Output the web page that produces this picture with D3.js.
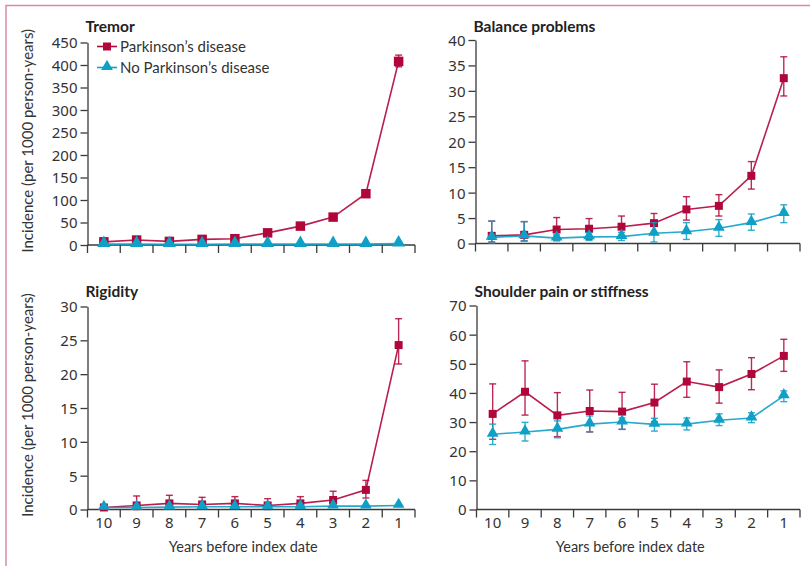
<!DOCTYPE html>
<html>
<head>
<meta charset="utf-8">
<script src="https://cdn.jsdelivr.net/npm/d3@7"></script>
<style>
  body { margin: 0; background: #fff; }
  svg { font-family: Lato, "Open Sans", sans-serif; }
  .num { font-family: "Noto Sans", "Open Sans", sans-serif; }
</style>
</head>
<body>
<svg id="chart" width="810" height="566"></svg>
<script>
const years = [10, 9, 8, 7, 6, 5, 4, 3, 2, 1];

// Tremor
const tremorPD = [7, 11, 8, 12.5, 14, 27, 42, 62, 114, 408];
const tremorPDLo = [5, 9, 6, 10.5, 12, 25, 39, 58, 108, 396];
const tremorPDHi = [9, 13, 10, 14.5, 16, 29, 45, 66, 121, 422];
const tremorNo = [2, 2, 1.5, 1.5, 2, 2, 2, 2, 2, 3];
const tremorNoLo = [1.5, 1.5, 1, 1, 1.5, 1.5, 1.5, 1.5, 1.5, 2.5];
const tremorNoHi = [2.5, 2.5, 2, 2, 2.5, 2.5, 2.5, 2.5, 2.5, 3.5];

// Balance problems
const balancePD = [1.5, 1.7, 2.75, 2.9, 3.3, 4.0, 6.7, 7.4, 13.3, 32.5];
const balancePDLo = [0.3, 0.5, 0.7, 0.8, 1.3, 2.1, 4.6, 5.4, 10.7, 29.0];
const balancePDHi = [4.4, 4.3, 5.1, 4.9, 5.4, 5.9, 9.2, 9.6, 16.1, 36.7];
const balanceNo = [1.2, 1.5, 1.05, 1.3, 1.35, 2.0, 2.3, 3.0, 4.1, 5.9];
const balanceNoLo = [0.1, 0.5, 0.5, 0.6, 0.6, 0.3, 0.8, 1.4, 2.6, 4.1];
const balanceNoHi = [4.4, 4.3, 1.7, 2.1, 2.2, 4.1, 4.1, 4.7, 5.8, 7.6];

// Rigidity
const rigidityPD = [0.3, 0.6, 0.9, 0.75, 0.9, 0.6, 0.9, 1.4, 2.9, 24.3];
const rigidityPDLo = [0.1, 0, 0.3, 0.2, 0.1, 0, 0.3, 0.8, 1.7, 21.5];
const rigidityPDHi = [0.5, 2.0, 2.1, 1.8, 1.9, 1.6, 1.9, 2.7, 4.3, 28.2];
const rigidityNo = [0.3, 0.3, 0.35, 0.4, 0.4, 0.4, 0.4, 0.5, 0.5, 0.6];
const rigidityNoLo = [0.2, 0.2, 0.25, 0.3, 0.3, 0.3, 0.3, 0.4, 0.4, 0.5];
const rigidityNoHi = [0.4, 0.4, 0.45, 0.5, 0.5, 0.5, 0.5, 0.6, 0.6, 0.7];

// Shoulder pain or stiffness
const shoulderPD = [32.8, 40.4, 32.3, 33.8, 33.6, 36.7, 43.9, 42.0, 46.5, 52.7];
const shoulderPDLo = [24.1, 32.4, 25.0, 26.6, 27.5, 30.1, 38.5, 36.5, 41.1, 47.4];
const shoulderPDHi = [43.1, 51.0, 40.1, 41.0, 40.2, 43.0, 50.7, 47.9, 52.1, 58.4];
const shoulderNo = [25.8, 26.6, 27.5, 29.3, 30.0, 29.2, 29.3, 30.6, 31.4, 39.0];
const shoulderNoLo = [22.3, 23.5, 24.6, 26.7, 27.5, 26.9, 27.3, 28.8, 29.8, 37.0];
const shoulderNoHi = [29.3, 29.9, 30.4, 32.1, 31.4, 31.3, 31.4, 32.8, 33.2, 40.7];

const tremorTicks = d3.range(0, 451, 50);
const balanceTicks = d3.range(0, 41, 5);
const rigidityTicks = d3.range(0, 31, 5);
const shoulderTicks = d3.range(0, 71, 10);

const red = "#b0063a";
const blue = "#0ea0c6";
const axisColor = "#3a3a3a";

const panels = [
  { title: "Tremor", x0: 87.5, x1: 415, y0: 245, y1: 42.5, max: 450, ticks: tremorTicks, titleY: 32,
    pd: [tremorPD, tremorPDLo, tremorPDHi], no: [tremorNo, tremorNoLo, tremorNoHi],
    labels: false, legend: true, ytitle: true },
  { title: "Balance problems", x0: 475.5, x1: 800, y0: 243.5, y1: 40, max: 40, ticks: balanceTicks, titleY: 32,
    pd: [balancePD, balancePDLo, balancePDHi], no: [balanceNo, balanceNoLo, balanceNoHi],
    labels: false, legend: false, ytitle: false },
  { title: "Rigidity", x0: 87.5, x1: 415, y0: 509.5, y1: 306.5, max: 30, ticks: rigidityTicks, titleY: 296.5,
    pd: [rigidityPD, rigidityPDLo, rigidityPDHi], no: [rigidityNo, rigidityNoLo, rigidityNoHi],
    labels: true, legend: false, ytitle: true },
  { title: "Shoulder pain or stiffness", x0: 476.5, x1: 800, y0: 509.5, y1: 305.5, max: 70, ticks: shoulderTicks, titleY: 296.5,
    pd: [shoulderPD, shoulderPDLo, shoulderPDHi], no: [shoulderNo, shoulderNoLo, shoulderNoHi],
    labels: true, legend: false, ytitle: false }
];

const svg = d3.select("#chart");

// frame
svg.append("path")
  .attr("d", "M6,566 V5.5 H810")
  .attr("fill", "none")
  .attr("stroke", "#d98aa2")
  .attr("stroke-width", 1.5);

const square = d3.symbol().type(d3.symbolSquare).size(90);
const triangle = d3.symbol().type(d3.symbolTriangle).size(75);

function drawSeries(g, x, y, vals, color, sym) {
  const [mid, lo, hi] = vals;
  const pts = years.map((yr, i) => ({ yr, v: mid[i], lo: lo[i], hi: hi[i] }));
  const cx = d => x(d.yr) + x.bandwidth() / 2;

  g.append("path")
    .datum(pts)
    .attr("fill", "none")
    .attr("stroke", color)
    .attr("stroke-width", 1.6)
    .attr("stroke-opacity", 0.9)
    .attr("d", d3.line().x(cx).y(d => y(d.v)));

  const eb = g.append("g")
    .attr("stroke", color)
    .attr("stroke-width", 1.4)
    .attr("stroke-opacity", 0.85);
  eb.selectAll("line.v").data(pts).join("line")
    .attr("x1", cx).attr("x2", cx)
    .attr("y1", d => y(d.lo)).attr("y2", d => y(d.hi));
  eb.selectAll("line.t").data(pts).join("line")
    .attr("x1", d => cx(d) - 3.5).attr("x2", d => cx(d) + 3.5)
    .attr("y1", d => y(d.hi)).attr("y2", d => y(d.hi));
  eb.selectAll("line.b").data(pts).join("line")
    .attr("x1", d => cx(d) - 3.5).attr("x2", d => cx(d) + 3.5)
    .attr("y1", d => y(d.lo)).attr("y2", d => y(d.lo));

  g.selectAll(null).data(pts).join("path")
    .attr("transform", d => `translate(${cx(d)},${y(d.v) + (sym === triangle ? -1 : 0)})`)
    .attr("d", sym())
    .attr("fill", color);
}

panels.forEach(p => {
  const x = d3.scaleBand().domain(years).range([p.x0, p.x1]);
  const y = d3.scaleLinear().domain([0, p.max]).range([p.y0, p.y1]);
  const g = svg.append("g");

  // y axis
  const ya = g.append("g")
    .attr("transform", `translate(${p.x0},0)`)
    .call(d3.axisLeft(y).tickValues(p.ticks).tickSize(7).tickPadding(3).tickSizeOuter(0));
  ya.select(".domain").attr("stroke", axisColor).attr("stroke-width", 1.3);
  ya.selectAll(".tick line").attr("stroke", axisColor).attr("stroke-width", 1.3);
  ya.selectAll(".tick text").attr("class", "num").attr("fill", "#333")
    .style("font-size", "15px").attr("dy", "0.36em");

  // x axis with ticks at band boundaries
  const xa = g.append("g").attr("transform", `translate(0,${p.y0})`);
  xa.append("line")
    .attr("x1", p.x0).attr("x2", p.x1)
    .attr("stroke", axisColor).attr("stroke-width", 1.3);
  const bounds = years.map(yr => x(yr)).concat([p.x1]);
  xa.selectAll("line.tk").data(bounds).join("line")
    .attr("x1", d => d).attr("x2", d => d)
    .attr("y1", 0).attr("y2", 8)
    .attr("stroke", axisColor).attr("stroke-width", 1.3);
  if (p.labels) {
    xa.selectAll("text").data(years).join("text")
      .attr("class", "num")
      .attr("x", d => x(d) + x.bandwidth() / 2)
      .attr("y", 18)
      .attr("text-anchor", "middle")
      .attr("fill", "#333")
      .style("font-size", "15px")
      .text(d => d);
    g.append("text")
      .attr("x", (p.x0 + p.x1) / 2 - 8)
      .attr("y", p.y0 + 42)
      .attr("text-anchor", "middle")
      .attr("fill", "#333")
      .style("font-size", "14.5px")
      .text("Years before index date");
  }

  g.append("text")
    .attr("x", p.x0 - 2)
    .attr("y", p.titleY)
    .attr("fill", "#222")
    .style("font-size", "15.5px")
    .style("font-weight", "bold")
    .text(p.title);

  if (p.ytitle) {
    g.append("text")
      .attr("transform", `translate(33,${(p.y0 + p.y1) / 2 - 3}) rotate(-90)`)
      .attr("text-anchor", "middle")
      .attr("fill", "#333")
      .style("font-size", "15px")
      .text("Incidence (per 1000 person-years)");
  }

  drawSeries(g, x, y, p.pd, red, square);
  drawSeries(g, x, y, p.no, blue, triangle);

  if (p.legend) {
    const items = [
      { label: "Parkinson\u2019s disease", color: red, sym: square },
      { label: "No Parkinson\u2019s disease", color: blue, sym: triangle }
    ];
    const lg = g.append("g");
    items.forEach((it, i) => {
      const cy = 46.5 + i * 21;
      lg.append("line")
        .attr("x1", 97).attr("x2", 117)
        .attr("y1", cy).attr("y2", cy)
        .attr("stroke", it.color).attr("stroke-width", 1.6);
      lg.append("path")
        .attr("transform", `translate(107,${cy - (it.sym === triangle ? 1 : 0)})`)
        .attr("d", it.sym.size(it.sym === square ? 64 : 60)())
        .attr("fill", it.color);
      lg.append("text")
        .attr("x", 120).attr("y", cy)
        .attr("dy", "0.36em")
        .attr("fill", "#333")
        .style("font-size", "15px")
        .text(it.label);
    });
  }
});
</script>
</body>
</html>
